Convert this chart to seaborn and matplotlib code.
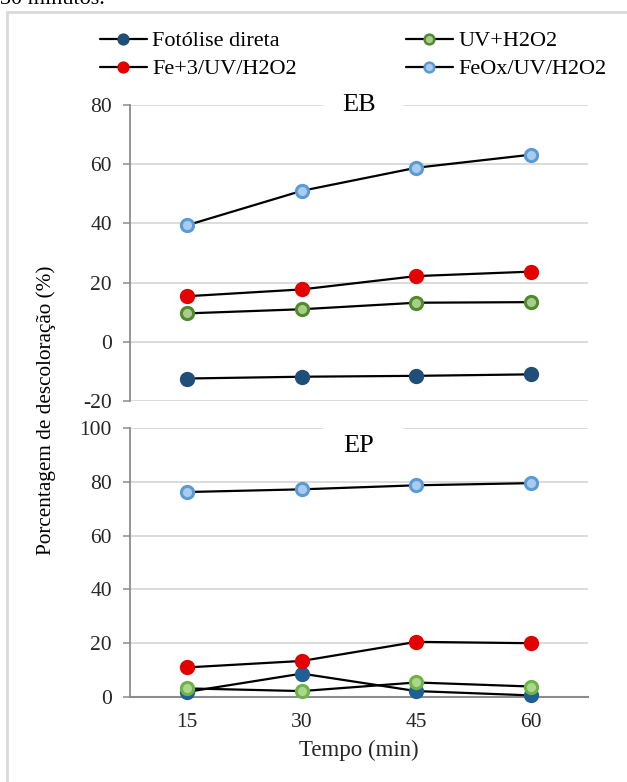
import matplotlib
matplotlib.use("Agg")
import matplotlib.pyplot as plt
import pandas as pd
import seaborn as sns
from matplotlib.lines import Line2D
from matplotlib.patches import Rectangle

# ---- data -------------------------------------------------------------
tempo = [15, 30, 45, 60]
series = ["Fotólise direta", "UV+H2O2", "Fe+3/UV/H2O2", "FeOx/UV/H2O2"]

# EB panel (% decolorization)
eb_fotolise = [-12.4, -11.8, -11.5, -11.0]
eb_uv_h2o2 = [9.6, 11.0, 13.2, 13.4]
eb_fe3 = [15.4, 17.7, 22.2, 23.7]
eb_feox = [39.4, 51.0, 58.8, 63.2]

# EP panel (% decolorization)
ep_fotolise = [1.9, 8.7, 2.2, 0.6]
ep_uv_h2o2 = [3.2, 2.2, 5.4, 3.9]
ep_fe3 = [11.0, 13.4, 20.5, 20.0]
ep_feox = [76.2, 77.2, 78.7, 79.5]

eb_ticks = [-20, 0, 20, 40, 60, 80]
ep_ticks = [0, 20, 40, 60, 80, 100]

# ---- style ------------------------------------------------------------
sns.set_style("white")
plt.rcParams["font.family"] = ["Liberation Serif", "DejaVu Serif"]
plt.rcParams["text.color"] = "black"

W, H = 627, 782
fig = plt.figure(figsize=(W / 100, H / 100), dpi=100)

GRID = "#d9d9d9"
AXIS = "#8c8c8c"
TICK_FS = 15.5
LEGEND_FS = 16

# marker face / edge colours per series
styles_eb = {
    "Fotólise direta": ("#1f4e79", "#1f4e79"),
    "UV+H2O2": ("#a9cc8c", "#4f8a2b"),
    "Fe+3/UV/H2O2": ("#e50000", "#e50000"),
    "FeOx/UV/H2O2": ("#a9cbec", "#5b9bd5"),
}
styles_ep = {
    "Fotólise direta": ("#1f5f94", "#1f5f94"),
    "UV+H2O2": ("#aad68e", "#6db347"),
    "Fe+3/UV/H2O2": ("#e50000", "#e50000"),
    "FeOx/UV/H2O2": ("#a9cbec", "#5b9bd5"),
}


def frac_x(px):
    return px / W


def frac_y(px):
    return 1 - px / H


left, right = 130, 588
ax_eb = fig.add_axes([frac_x(left), frac_y(401), (right - left) / W, (401 - 105) / H])
ax_ep = fig.add_axes([frac_x(left), frac_y(697), (right - left) / W, (697 - 428) / H])


def long_frame(values):
    rows = []
    for name, vals in zip(series, values):
        for t, v in zip(tempo, vals):
            rows.append({"Tempo": t, "Valor": v, "Serie": name})
    return pd.DataFrame(rows)


df_eb = long_frame([eb_fotolise, eb_uv_h2o2, eb_fe3, eb_feox])
df_ep = long_frame([ep_fotolise, ep_uv_h2o2, ep_fe3, ep_feox])


def draw_panel(ax, df, styles, ticks, ylim):
    for name in series:
        face, edge = styles[name]
        sns.lineplot(
            data=df[df["Serie"] == name], x="Tempo", y="Valor", ax=ax,
            color="black", linewidth=1.6, marker="o", markersize=8.8,
            markerfacecolor=face, markeredgecolor=edge, markeredgewidth=2.2,
            clip_on=False, zorder=3,
        )
    ax.set_xlim(7.5, 67.5)
    ax.set_ylim(*ylim)
    ax.set_yticks(ticks)
    ax.set_yticklabels([str(t) for t in ticks])
    ax.set_xticks(tempo)
    ax.set_xticklabels([str(t) for t in tempo])
    ax.grid(axis="y", color=GRID, linewidth=1.3)
    ax.grid(axis="x", visible=False)
    ax.set_axisbelow(True)
    for s in ["top", "right"]:
        ax.spines[s].set_visible(False)
    ax.spines["left"].set_color(AXIS)
    ax.spines["left"].set_linewidth(1.3)
    ax.tick_params(axis="y", length=5, width=1.1, color=AXIS, pad=8,
                   labelsize=TICK_FS, left=True)
    ax.tick_params(axis="x", length=0, pad=11.5, labelsize=TICK_FS)
    ax.set_xlabel("")
    ax.set_ylabel("")


draw_panel(ax_eb, df_eb, styles_eb, eb_ticks, (-20, 80))
draw_panel(ax_ep, df_ep, styles_ep, ep_ticks, (0, 100))

ax_eb.spines["bottom"].set_visible(False)
ax_eb.tick_params(axis="x", labelbottom=False)
ax_ep.spines["bottom"].set_color(AXIS)
ax_ep.spines["bottom"].set_linewidth(1.5)

# panel titles on white boxes that break the top grid line
for ax, title, ty, box_y0, box_h in [
    (ax_eb, "EB", 1.0, 0.94, 0.12),
    (ax_ep, "EP", 0.933, 0.90, 0.14),
]:
    ax.add_patch(Rectangle((0.421, box_y0), 0.175, box_h, transform=ax.transAxes,
                           facecolor="white", edgecolor="none", zorder=1.5,
                           clip_on=False))
    ax.text(0.5, ty, title, transform=ax.transAxes, ha="center", va="center",
            fontsize=19, zorder=4)

# axis labels
ax_ep.set_xlabel("Tempo (min)", fontsize=16.5)
ax_ep.xaxis.set_label_coords(0.5, -0.16)
fig.text(frac_x(46), frac_y(410), "Porcentagem de descoloração (%)",
         rotation=90, ha="center", va="center", fontsize=15.3)

# legend: two columns, two rows
legend_pos = {
    "Fotólise direta": (100, 41),
    "UV+H2O2": (406, 41),
    "Fe+3/UV/H2O2": (100, 69),
    "FeOx/UV/H2O2": (406, 69),
}
for name in series:
    face, edge = styles_eb[name]
    handle = Line2D([], [], color="black", linewidth=1.6, marker="o",
                    markersize=7, markerfacecolor=face, markeredgecolor=edge,
                    markeredgewidth=1.8)
    x, y = legend_pos[name]
    fig.legend([handle], [name], loc="center left",
               bbox_to_anchor=(frac_x(x), frac_y(y)), frameon=False,
               borderpad=0, borderaxespad=0, handlelength=2.1,
               handletextpad=0.25, fontsize=LEGEND_FS)

# outer frame of the figure box
fig.add_artist(Rectangle((frac_x(7), -0.2), 1.5, frac_y(12) + 0.2,
                         transform=fig.transFigure, fill=False,
                         edgecolor="#d9d9d9", linewidth=2))

# caption line above the figure box
fig.text(0, frac_y(4), "30 minutos.", ha="left", va="baseline", fontsize=16)

fig.savefig("out.png", dpi=100)
